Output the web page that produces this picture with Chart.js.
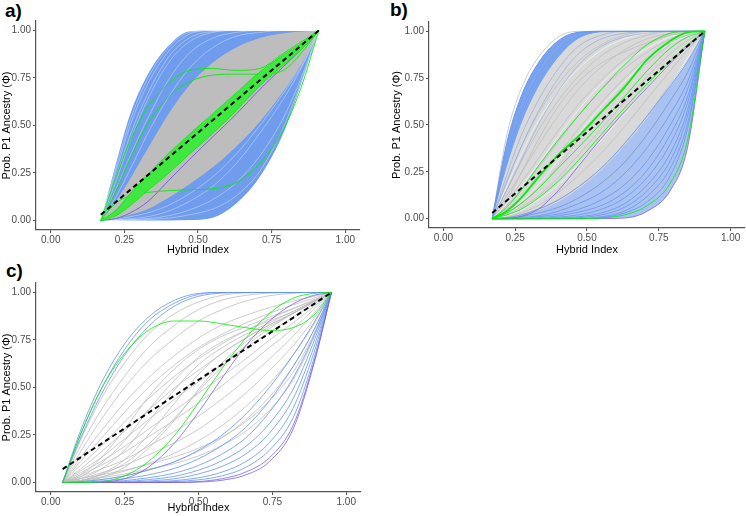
<!DOCTYPE html>
<html>
<head>
<meta charset="utf-8">
<script src="https://cdn.jsdelivr.net/npm/chart.js@4"></script>
<style>
body{margin:0;background:#fff;width:746px;height:516px;position:relative;overflow:hidden;font-family:"Liberation Sans",Arial,sans-serif}
canvas{position:absolute}
.lbl{position:absolute;font-weight:bold;font-size:19px;line-height:19px;color:#000}
</style>
</head>
<body>
<div class="lbl" style="left:5px;top:1px">a)</div>
<div class="lbl" style="left:390px;top:0px">b)</div>
<div class="lbl" style="left:6px;top:261px">c)</div>
<canvas id="ca" width="373" height="262" style="left:0;top:0"></canvas>
<canvas id="cb" width="373" height="262" style="left:373px;top:0"></canvas>
<canvas id="cc" width="373" height="254" style="left:0;top:262px"></canvas>
<script>
const gridAB = [0.17, 0.22, 0.27, 0.33, 0.40, 0.47, 0.55, 0.63, 0.71, 0.79, 0.85, 0.91];
const gridC = [0.04, 0.10, 0.17, 0.25, 0.33, 0.42, 0.50, 0.58, 0.66, 0.74, 0.82, 0.89, 0.95];
const tickVals = [0, 0.25, 0.5, 0.75, 1];

// ---- panel a ----
const aBlueHi = [0, 0.29, 0.56, 0.77, 0.92, 0.995, 1, 1, 1, 1, 1, 1];
const aBlueLo = [0, 0, 0, 0, 0, 0.002, 0.015, 0.09, 0.23, 0.46, 0.72, 1];
const aGrayHi = [0, 0.10, 0.22, 0.38, 0.56, 0.71, 0.83, 0.91, 0.96, 0.985, 0.995, 1];
const aGrayLo = [0, 0.01, 0.03, 0.06, 0.12, 0.19, 0.28, 0.39, 0.52, 0.68, 0.82, 1];
const aStreak = [
  [0, 0.27, 0.53, 0.75, 0.91, 0.99, 1, 1, 1, 1, 1, 1],
  [0, 0.25, 0.50, 0.72, 0.89, 0.98, 1, 1, 1, 1, 1, 1],
  [0, 0.22, 0.45, 0.67, 0.86, 0.96, 0.995, 1, 1, 1, 1, 1],
  [0, 0.20, 0.42, 0.64, 0.83, 0.94, 0.99, 1, 1, 1, 1, 1],
  [0, 0.16, 0.34, 0.54, 0.74, 0.88, 0.96, 0.99, 1, 1, 1, 1],
  [0, 0.12, 0.27, 0.46, 0.65, 0.80, 0.91, 0.97, 0.99, 1, 1, 1],
  [0, 0.003, 0.01, 0.02, 0.05, 0.10, 0.18, 0.30, 0.46, 0.64, 0.80, 1],
  [0, 0.001, 0.004, 0.01, 0.025, 0.055, 0.11, 0.20, 0.34, 0.54, 0.75, 1],
  [0, 0, 0.002, 0.005, 0.012, 0.03, 0.06, 0.13, 0.26, 0.49, 0.73, 1],
  [0, 0.006, 0.02, 0.04, 0.08, 0.14, 0.23, 0.35, 0.50, 0.67, 0.81, 1]
];
const aGreenBand = [
  [0, 0.025, 0.08, 0.16, 0.25, 0.35, 0.46, 0.58, 0.71, 0.82, 0.90, 1],
  [0, 0.03, 0.09, 0.175, 0.27, 0.37, 0.48, 0.60, 0.725, 0.83, 0.905, 1],
  [0, 0.035, 0.10, 0.19, 0.29, 0.39, 0.50, 0.615, 0.74, 0.84, 0.91, 1],
  [0, 0.04, 0.11, 0.205, 0.31, 0.41, 0.52, 0.63, 0.75, 0.85, 0.915, 1],
  [0, 0.045, 0.125, 0.22, 0.33, 0.43, 0.54, 0.65, 0.765, 0.86, 0.92, 1],
  [0, 0.05, 0.14, 0.24, 0.35, 0.45, 0.56, 0.67, 0.78, 0.87, 0.93, 1]
];
const aGreenOdd = [
  [0, 0.22, 0.42, 0.60, 0.72, 0.79, 0.80, 0.79, 0.80, 0.88, 0.94, 1],
  [0, 0.15, 0.33, 0.51, 0.65, 0.73, 0.765, 0.77, 0.77, 0.79, 0.88, 1],
  [0, 0.09, 0.13, 0.148, 0.157, 0.162, 0.167, 0.20, 0.30, 0.48, 0.70, 1]
];
const aPurple = [0, 0.01, 0.04, 0.10, 0.21, 0.32, 0.44, 0.56, 0.69, 0.81, 0.90, 1];
const abDashX = [0.17, 0.91];
const abDashY = [0.03, 1.0];

// ---- panel b ----
const bBandHi = [0, 0.40, 0.65, 0.83, 0.95, 0.995, 1, 1, 1, 1, 1, 1];
const bBandLo = [0, 0.27, 0.50, 0.70, 0.86, 0.96, 0.995, 1, 1, 1, 1, 1];
const bGrayEdge = [0, 0.44, 0.69, 0.86, 0.97, 1, 1, 1, 1, 1, 1, 1];
const bGrayLo = [0, 0.005, 0.02, 0.045, 0.09, 0.16, 0.26, 0.39, 0.54, 0.72, 0.86, 1];
const bBlueUp = [
  [0, 0.37, 0.62, 0.80, 0.93, 0.99, 1, 1, 1, 1, 1, 1],
  [0, 0.33, 0.57, 0.76, 0.90, 0.98, 1, 1, 1, 1, 1, 1],
  [0, 0.30, 0.54, 0.73, 0.88, 0.97, 0.998, 1, 1, 1, 1, 1],
  [0, 0.23, 0.44, 0.63, 0.80, 0.92, 0.98, 1, 1, 1, 1, 1],
  [0, 0.19, 0.38, 0.57, 0.75, 0.88, 0.96, 0.99, 1, 1, 1, 1],
  [0, 0.15, 0.31, 0.50, 0.68, 0.82, 0.92, 0.97, 0.99, 1, 1, 1]
];
const bGray = [
  [0, 0.20, 0.38, 0.56, 0.72, 0.84, 0.93, 0.98, 1, 1, 1, 1],
  [0, 0.15, 0.30, 0.47, 0.63, 0.76, 0.87, 0.94, 0.98, 1, 1, 1],
  [0, 0.12, 0.24, 0.39, 0.55, 0.69, 0.81, 0.90, 0.96, 0.99, 1, 1],
  [0, 0.09, 0.19, 0.32, 0.47, 0.61, 0.74, 0.85, 0.93, 0.98, 0.995, 1],
  [0, 0.07, 0.15, 0.27, 0.41, 0.55, 0.69, 0.80, 0.89, 0.96, 0.99, 1],
  [0, 0.05, 0.11, 0.21, 0.34, 0.48, 0.62, 0.75, 0.86, 0.94, 0.98, 1],
  [0, 0.03, 0.08, 0.16, 0.28, 0.42, 0.57, 0.71, 0.83, 0.93, 0.98, 1],
  [0, 0.02, 0.06, 0.12, 0.22, 0.34, 0.48, 0.62, 0.76, 0.88, 0.95, 1],
  [0, 0.01, 0.03, 0.07, 0.14, 0.23, 0.35, 0.49, 0.64, 0.79, 0.90, 1],
  [0, 0.005, 0.02, 0.05, 0.10, 0.17, 0.27, 0.40, 0.55, 0.72, 0.85, 1],
  [0, 0, 0.01, 0.03, 0.06, 0.11, 0.19, 0.30, 0.45, 0.63, 0.79, 1],
  [0, 0.10, 0.24, 0.42, 0.60, 0.73, 0.83, 0.89, 0.94, 0.98, 0.99, 1]
];
const bStreak = [
  [0, 0.17, 0.34, 0.52, 0.68, 0.80, 0.90, 0.96, 0.99, 1, 1, 1],
  [0, 0.08, 0.17, 0.29, 0.44, 0.58, 0.72, 0.83, 0.91, 0.97, 0.99, 1],
  [0, 0.04, 0.09, 0.18, 0.31, 0.45, 0.60, 0.73, 0.85, 0.935, 0.975, 1],
  [0, 0.015, 0.045, 0.10, 0.18, 0.29, 0.42, 0.56, 0.70, 0.84, 0.93, 1]
];
const bBlueLow = [
  [0, 0.005, 0.02, 0.05, 0.10, 0.17, 0.27, 0.40, 0.55, 0.71, 0.84, 1],
  [0, 0, 0.01, 0.03, 0.06, 0.11, 0.19, 0.30, 0.45, 0.63, 0.78, 1],
  [0, 0, 0.005, 0.015, 0.04, 0.08, 0.14, 0.24, 0.38, 0.56, 0.73, 1],
  [0, 0, 0, 0.01, 0.025, 0.05, 0.10, 0.18, 0.31, 0.50, 0.69, 1],
  [0, 0, 0, 0.005, 0.015, 0.035, 0.07, 0.14, 0.26, 0.45, 0.65, 1],
  [0, 0, 0, 0, 0.008, 0.02, 0.05, 0.11, 0.22, 0.40, 0.62, 1],
  [0, 0, 0, 0, 0.003, 0.01, 0.03, 0.08, 0.18, 0.35, 0.58, 1],
  [0, 0, 0, 0, 0, 0.005, 0.02, 0.06, 0.15, 0.31, 0.55, 1],
  [0, 0, 0, 0, 0, 0, 0.01, 0.04, 0.12, 0.27, 0.51, 1],
  [0, 0, 0, 0, 0, 0, 0.005, 0.03, 0.09, 0.23, 0.48, 1]
];
const bGreenMain = [0, 0.04, 0.11, 0.22, 0.34, 0.44, 0.57, 0.70, 0.85, 0.95, 0.995, 1];
const bGreenThin = [
  [0, 0.06, 0.15, 0.28, 0.42, 0.55, 0.69, 0.82, 0.93, 0.99, 1, 1],
  [0, 0.03, 0.08, 0.16, 0.27, 0.38, 0.51, 0.65, 0.79, 0.91, 0.97, 1],
  [0, 0.02, 0.05, 0.11, 0.20, 0.31, 0.45, 0.59, 0.72, 0.84, 0.93, 1],
  [0, 0, 0, 0, 0, 0, 0.003, 0.02, 0.07, 0.19, 0.42, 1]
];
const bPurple = [
  [0, 0.003, 0.012, 0.05, 0.15, 0.28, 0.43, 0.57, 0.70, 0.83, 0.92, 1],
  [0, 0, 0, 0, 0, 0, 0, 0.003, 0.04, 0.15, 0.38, 1]
];

// ---- panel c ----
const cBlueUp = [
  [0, 0.27, 0.52, 0.73, 0.87, 0.96, 0.995, 1, 1, 1, 1, 1, 1],
  [0, 0.25, 0.49, 0.70, 0.85, 0.945, 0.99, 1, 1, 1, 1, 1, 1],
  [0, 0.23, 0.46, 0.67, 0.82, 0.93, 0.98, 0.997, 1, 1, 1, 1, 1]
];
const cBlueLow = [
  [0, 0.005, 0.015, 0.035, 0.065, 0.11, 0.17, 0.25, 0.36, 0.50, 0.67, 0.84, 1],
  [0, 0.002, 0.008, 0.02, 0.04, 0.075, 0.125, 0.195, 0.29, 0.43, 0.61, 0.80, 1],
  [0, 0, 0.003, 0.01, 0.025, 0.05, 0.09, 0.15, 0.235, 0.37, 0.55, 0.77, 1],
  [0, 0, 0.001, 0.005, 0.015, 0.033, 0.065, 0.115, 0.19, 0.31, 0.49, 0.74, 1],
  [0, 0, 0, 0.002, 0.008, 0.02, 0.045, 0.085, 0.15, 0.26, 0.44, 0.71, 1],
  [0, 0, 0, 0, 0.003, 0.01, 0.025, 0.055, 0.11, 0.21, 0.39, 0.68, 1],
  [0, 0, 0, 0, 0.001, 0.005, 0.014, 0.035, 0.08, 0.17, 0.34, 0.65, 1]
];
const cGray = [
  [0, 0.22, 0.44, 0.63, 0.78, 0.89, 0.95, 0.985, 0.998, 1, 1, 1, 1],
  [0, 0.19, 0.38, 0.56, 0.71, 0.83, 0.91, 0.96, 0.985, 0.997, 1, 1, 1],
  [0, 0.16, 0.33, 0.50, 0.64, 0.76, 0.85, 0.91, 0.955, 0.983, 0.996, 1, 1],
  [0, 0.13, 0.27, 0.42, 0.55, 0.67, 0.76, 0.83, 0.88, 0.92, 0.955, 0.98, 1],
  [0, 0.11, 0.23, 0.37, 0.50, 0.62, 0.71, 0.78, 0.84, 0.89, 0.935, 0.97, 1],
  [0, 0.09, 0.19, 0.32, 0.44, 0.56, 0.65, 0.73, 0.80, 0.86, 0.915, 0.96, 1],
  [0, 0.07, 0.16, 0.27, 0.38, 0.50, 0.59, 0.68, 0.76, 0.83, 0.89, 0.95, 1],
  [0, 0.06, 0.13, 0.23, 0.33, 0.44, 0.53, 0.62, 0.71, 0.79, 0.87, 0.94, 1],
  [0, 0.05, 0.11, 0.19, 0.28, 0.38, 0.47, 0.56, 0.65, 0.75, 0.84, 0.925, 1],
  [0, 0.04, 0.09, 0.16, 0.24, 0.33, 0.42, 0.51, 0.61, 0.71, 0.81, 0.91, 1],
  [0, 0.03, 0.07, 0.12, 0.19, 0.27, 0.35, 0.44, 0.54, 0.65, 0.77, 0.89, 1],
  [0, 0.02, 0.05, 0.09, 0.145, 0.21, 0.28, 0.37, 0.47, 0.59, 0.72, 0.86, 1],
  [0, 0.01, 0.03, 0.06, 0.10, 0.155, 0.22, 0.30, 0.40, 0.52, 0.67, 0.83, 1],
  [0, 0.005, 0.015, 0.035, 0.065, 0.11, 0.165, 0.235, 0.33, 0.45, 0.61, 0.80, 1],
  [0, 0.02, 0.07, 0.17, 0.32, 0.49, 0.62, 0.71, 0.78, 0.84, 0.90, 0.955, 1],
  [0, 0.01, 0.045, 0.12, 0.25, 0.42, 0.57, 0.68, 0.76, 0.83, 0.89, 0.95, 1],
  [0, 0.03, 0.10, 0.22, 0.38, 0.54, 0.66, 0.74, 0.80, 0.85, 0.90, 0.955, 1],
  [0, 0.005, 0.025, 0.08, 0.18, 0.33, 0.49, 0.63, 0.74, 0.82, 0.89, 0.95, 1],
  [0, 0.04, 0.13, 0.28, 0.45, 0.60, 0.70, 0.77, 0.82, 0.87, 0.915, 0.96, 1],
  [0, 0.01, 0.04, 0.10, 0.20, 0.34, 0.48, 0.61, 0.72, 0.81, 0.89, 0.95, 1],
  [0, 0.02, 0.04, 0.065, 0.095, 0.135, 0.18, 0.24, 0.32, 0.43, 0.58, 0.78, 1],
  [0, 0.01, 0.025, 0.045, 0.07, 0.10, 0.14, 0.195, 0.27, 0.38, 0.54, 0.76, 1]
];
const cGreen = [
  [0, 0.25, 0.49, 0.68, 0.80, 0.85, 0.85, 0.835, 0.815, 0.80, 0.815, 0.88, 1],
  [0, 0, 0.004, 0.035, 0.11, 0.25, 0.42, 0.60, 0.76, 0.89, 0.97, 0.995, 1]
];
const cPurple = [
  [0, 0, 0.002, 0.02, 0.08, 0.21, 0.37, 0.55, 0.72, 0.85, 0.94, 0.985, 1],
  [0, 0, 0, 0, 0, 0, 0.002, 0.012, 0.04, 0.11, 0.28, 0.62, 1],
  [0, 0, 0, 0, 0, 0.001, 0.005, 0.02, 0.055, 0.13, 0.30, 0.63, 1]
];
const cDashX = [0.04, 0.95];
const cDashY = [0.07, 1.0];

// styles
const FONT = '"Liberation Sans", Arial, sans-serif';
const AXIS = '#555555';
const BLUE = '#6495ED';
const GRAY = '#bebebe';
const GREEN = '#00f000';
const PURPLE = '#7b62dc';

function curve(xs, ys, color, width, order, extra) {
  return Object.assign({
    data: xs.map((x, i) => ({x: x, y: ys[i]})),
    borderColor: color,
    borderWidth: width,
    pointRadius: 0,
    cubicInterpolationMode: 'monotone',
    fill: false,
    order: order
  }, extra || {});
}

function panel(xs) {
  let list = [];
  return {
    list: list,
    add: function (ys, color, width, order, extra) {
      list.push(curve(xs, ys, color, width, order, extra));
      return list.length - 1;
    },
    band: function (hi, lo, color, order) {
      let i = this.add(lo, 'transparent', 1, order);
      this.add(hi, 'transparent', 1, order, {fill: {target: i, above: color, below: color}, backgroundColor: color});
    },
    dash: function (dx, dy) {
      list.push({data: dx.map((x, i) => ({x: x, y: dy[i]})), borderColor: '#000', borderWidth: 2,
        borderDash: [5, 3.5], pointRadius: 0, fill: false, order: 0});
    }
  };
}

function axisOpts(o) {
  let common = {
    type: 'linear', min: -0.05, max: 1.05,
    afterBuildTicks: function (s) { s.ticks = tickVals.map(v => ({value: v})); },
    grid: {display: true, drawOnChartArea: false, drawTicks: true, tickLength: 3, color: AXIS, lineWidth: 1.1},
    border: {display: true, color: AXIS, width: 1.2},
    ticks: {color: '#4d4d4d', font: {family: FONT, size: 10}, maxRotation: 0, autoSkip: false,
      callback: v => Number(v).toFixed(2)}
  };
  return {
    x: Object.assign({}, common, {
      afterFit: function (s) { s.height = o.xh; },
      ticks: Object.assign({}, common.ticks, {padding: 1}),
      title: {display: true, text: 'Hybrid Index', color: '#000', font: {family: FONT, size: 11}, padding: {top: 0, bottom: o.xt}}
    }),
    y: Object.assign({}, common, {
      afterFit: function (s) { s.width = o.yw; },
      ticks: Object.assign({}, common.ticks, {padding: 2}),
      title: {display: true, text: 'Prob. P1 Ancestry (Φ)', color: '#000', font: {family: FONT, size: 11}, padding: {top: o.yt, bottom: 0}}
    })
  };
}

function makeChart(id, p, o) {
  new Chart(document.getElementById(id), {
    type: 'line',
    data: {datasets: p.list},
    options: {
      responsive: false,
      animation: false,
      devicePixelRatio: 1,
      layout: {padding: o.pad},
      plugins: {legend: {display: false}, tooltip: {enabled: false}},
      scales: axisOpts(o)
    }
  });
}

// panel a
let pa = panel(gridAB);
pa.band(aBlueHi, aBlueLo, '#6f9cec', 20);
pa.band(aGrayHi, aGrayLo, '#bdbdbd', 19);
aStreak.forEach(ys => pa.add(ys, 'rgba(255,255,255,0.5)', 0.7, 12));
pa.add(aPurple, PURPLE, 1, 6);
aGreenOdd.forEach(ys => pa.add(ys, GREEN, 0.9, 4));
pa.band(aGreenBand[5], aGreenBand[0], '#3ee83e', 3);
aGreenBand.forEach(ys => pa.add(ys, GREEN, 1.1, 3));
pa.dash(abDashX, abDashY);
makeChart('ca', pa, {pad: {left: 0, right: 13, top: 21, bottom: 0}, xh: 32, yw: 36, xt: 5, yt: 0});

// panel b
let pb = panel(gridAB);
pb.band(bBlueLow[0], bPurple[1], '#a9c2f2', 21);
pb.band(bBandLo, bGrayLo, '#d9d9d9', 20);
pb.band(bBandHi, bBandLo, '#7ca5ee', 18);
pb.add(bGrayEdge, GRAY, 0.8, 16);
bGray.forEach(ys => pb.add(ys, GRAY, 0.8, 15));
bStreak.forEach(ys => pb.add(ys, 'rgba(255,255,255,0.7)', 0.8, 14));
bBlueUp.forEach(ys => pb.add(ys, 'rgba(100,149,237,0.55)', 0.8, 12));
bBlueLow.forEach(ys => pb.add(ys, BLUE, 0.8, 11));
pb.add(bBandHi, BLUE, 1, 10);
bPurple.forEach(ys => pb.add(ys, PURPLE, 0.8, 6));
bGreenThin.forEach(ys => pb.add(ys, GREEN, 0.8, 5));
pb.add(bGreenMain, GREEN, 1.8, 4);
pb.dash(abDashX, abDashY);
makeChart('cb', pb, {pad: {left: 0, right: 1, top: 22, bottom: 0}, xh: 34, yw: 56, xt: 5, yt: 17});

// panel c
let pc = panel(gridC);
cGray.forEach(ys => pc.add(ys, GRAY, 0.8, 15));
cBlueLow.forEach(ys => pc.add(ys, BLUE, 0.8, 11));
cBlueUp.forEach(ys => pc.add(ys, BLUE, 0.8, 10));
cPurple.forEach(ys => pc.add(ys, PURPLE, 0.8, 6));
cGreen.forEach(ys => pc.add(ys, GREEN, 0.8, 5));
pc.dash(cDashX, cDashY);
makeChart('cc', pc, {pad: {left: 0, right: 12, top: 21, bottom: 0}, xh: 24, yw: 36, xt: 1, yt: 0});
</script>
</body>
</html>
